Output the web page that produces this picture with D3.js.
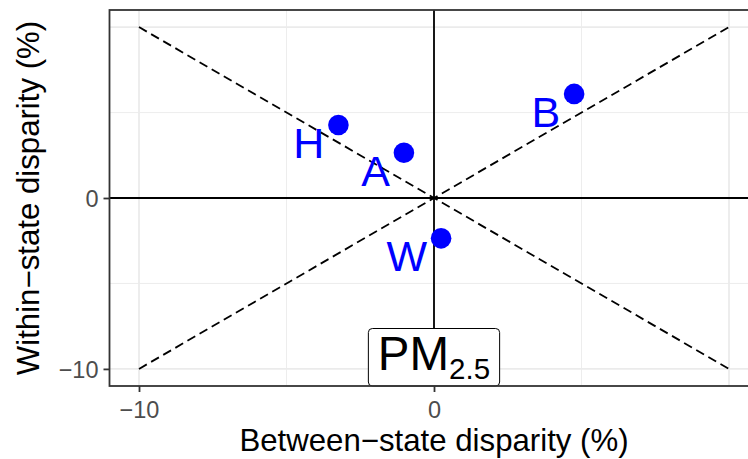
<!DOCTYPE html>
<html><head><meta charset="utf-8">
<script src="https://cdn.jsdelivr.net/npm/d3@7"></script>
<style>
body{margin:0;background:#fff;}
text{font-family:"Liberation Sans",Arial,Helvetica,sans-serif;}
</style></head>
<body><svg id="c" width="748" height="459"></svg>
<script>
// data
const labels = ["H","A","W","B"];
const betweenState = [-3.24,-1.02,0.24,4.75];
const withinState = [4.27,2.65,-2.36,6.09];
const xTicks = [-10,0];
const yTicks = [-10,0];
const gridBreaks = [-10,-5,0,5,10];
const refLines = [[[-10,10],[10,-10]],[[-10,-10],[10,10]]];
const pollutant = {main:"PM", sub:"2.5"};

const svg = d3.select("#c");
const x = d3.scaleLinear().domain([-11,11]).range([109.5,758.5]);
const y = d3.scaleLinear().domain([-11,11]).range([386,10]);

const panel = svg.append("g");
panel.append("rect").attr("x",x(-11)).attr("y",y(11)).attr("width",x(11)-x(-11)).attr("height",y(-11)-y(11)).attr("fill","#fff");
// grid
panel.selectAll(".gx").data(gridBreaks).join("line")
  .attr("x1",d=>x(d)).attr("x2",d=>x(d)).attr("y1",y(11)).attr("y2",y(-11))
  .attr("stroke","#EBEBEB").attr("stroke-width",d=>d%10===0?1.8:0.9);
panel.selectAll(".gy").data(gridBreaks).join("line")
  .attr("y1",d=>y(d)).attr("y2",d=>y(d)).attr("x1",x(-11)).attr("x2",x(11))
  .attr("stroke","#EBEBEB").attr("stroke-width",d=>d%10===0?1.8:0.9);
// zero lines
panel.append("line").attr("x1",x(0)).attr("x2",x(0)).attr("y1",y(11)).attr("y2",y(-11)).attr("stroke","#000").attr("stroke-width",1.8);
panel.append("line").attr("y1",y(0)).attr("y2",y(0)).attr("x1",x(-11)).attr("x2",x(11)).attr("stroke","#000").attr("stroke-width",1.8);
// dashed
panel.selectAll(".ref").data(refLines).join("line")
  .attr("x1",d=>x(d[0][0])).attr("y1",d=>y(d[0][1])).attr("x2",d=>x(d[1][0])).attr("y2",d=>y(d[1][1]))
  .attr("stroke","#000").attr("stroke-width",1.8).attr("stroke-dasharray","9,5");
// points
const pts = labels.map((l,i)=>({l, x:betweenState[i], y:withinState[i]}));
panel.selectAll(".pt").data(pts).join("circle")
  .attr("cx",d=>x(d.x)).attr("cy",d=>y(d.y)).attr("r",10.3).attr("fill","#0000FF");
panel.selectAll(".lb").data(pts).join("text")
  .attr("x",d=>x(d.x)-14).attr("y",d=>y(d.y)+33).attr("text-anchor","end")
  .attr("font-size",43).attr("fill","#0000FF").text(d=>d.l);

// PM2.5 label
const lab = panel.append("g");
const t = lab.append("text").attr("y",y(-11)-16).attr("font-size",47.5).attr("fill","#000");
t.append("tspan").text(pollutant.main);
t.append("tspan").attr("font-size",29.5).attr("dy",9).text(pollutant.sub);
const w = t.node().getComputedTextLength();
t.attr("x",x(0)-w/2);
const padX = 9.5;
lab.insert("rect","text").attr("x",x(0)-w/2-padX).attr("y",y(-11)-57.5)
  .attr("width",w+2*padX).attr("height",57.5).attr("rx",4)
  .attr("fill","#fff").attr("stroke","#000").attr("stroke-width",1);

// border
panel.append("rect").attr("x",x(-11)).attr("y",y(11)).attr("width",x(11)-x(-11)).attr("height",y(-11)-y(11))
  .attr("fill","none").attr("stroke","#333").attr("stroke-width",1.8);

// axes
const xAxis = svg.append("g").attr("transform",`translate(0,${y(-11)})`)
  .call(d3.axisBottom(x).tickValues(xTicks).tickSize(6).tickPadding(4).tickFormat(d=>d<0?"\u2212"+Math.abs(d):d));
const yAxis = svg.append("g").attr("transform",`translate(${x(-11)},0)`)
  .call(d3.axisLeft(y).tickValues(yTicks).tickSize(6).tickPadding(5).tickFormat(d=>d<0?"\u2212"+Math.abs(d):d));
[xAxis,yAxis].forEach(a=>{
  a.select(".domain").remove();
  a.selectAll(".tick line").attr("stroke","#333").attr("stroke-width",1.8);
  a.selectAll(".tick text").attr("fill","#4D4D4D").attr("font-size",23.5).attr("font-family",null);
});
xAxis.selectAll(".tick text").attr("dy","0.95em");
yAxis.selectAll(".tick text").attr("dy","0.36em");

svg.append("text").attr("x",x(0)).attr("y",451).attr("text-anchor","middle").attr("font-size",31.2).attr("fill","#000")
  .text("Between\u2212state disparity (%)");
svg.append("text").attr("transform",`translate(39,${y(0)}) rotate(-90)`).attr("text-anchor","middle").attr("font-size",31.2).attr("fill","#000")
  .text("Within\u2212state disparity (%)");
</script></body></html>
